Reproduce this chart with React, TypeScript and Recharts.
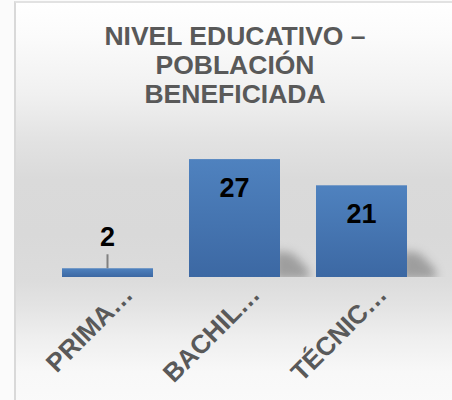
import React from "react";
import { BarChart, Bar, XAxis, YAxis, LabelList } from "recharts";

const categories = ["PRIMA…", "BACHIL…", "TÉCNIC…"];
const values = [2, 27, 21];
const titleLines = ["NIVEL EDUCATIVO –", "POBLACIÓN", "BENEFICIADA"];

const data = categories.map((name, i) => ({ name, value: values[i] }));

const FONT = '"Liberation Sans", Arial, Helvetica, sans-serif';

const BarShape = (props: any) => {
  const { x, y, width, height, index } = props;
  const bottom = y + height;
  const right = x + width;
  const sh = Math.min(height, 30);
  const clipId = `clip-shadow-${index}`;
  return (
    <g>
      <clipPath id={clipId}>
        <rect x={right} y={bottom - 60} width={60} height={60} />
      </clipPath>
      {sh > 12 && (
        <g clipPath={`url(#${clipId})`}>
          <polygon
            points={`${right - 6},${bottom + 2} ${right - 6},${bottom - sh + 4} ${right + 12},${bottom - sh + 6} ${right + 28},${bottom - 8} ${right + 30},${bottom + 2}`}
            fill="#8f8f8f"
            opacity={0.8}
            filter="url(#shadowBlur)"
          />
        </g>
      )}
      <rect x={x} y={y} width={width} height={height} fill="url(#barGrad)" />
    </g>
  );
};

const ValueLabel = (props: any) => {
  const { x, y, width, height, value } = props;
  const cx = x + width / 2;
  if (height < 40) {
    return (
      <g>
        <line x1={cx} x2={cx} y1={y - 14} y2={y} stroke="#808080" strokeWidth={2} />
        <text
          x={cx}
          y={y - 22}
          textAnchor="middle"
          fontFamily={FONT}
          fontWeight="bold"
          fontSize={27}
          fill="#000"
        >
          {value}
        </text>
      </g>
    );
  }
  return (
    <text
      x={cx}
      y={y + 38}
      textAnchor="middle"
      fontFamily={FONT}
      fontWeight="bold"
      fontSize={27}
      fill="#000"
    >
      {value}
    </text>
  );
};

const AxisTick = (props: any) => {
  const { x, payload } = props;
  const ax = x + 27;
  const ay = 296;
  return (
    <text
      x={ax}
      y={ay}
      textAnchor="end"
      transform={`rotate(-45, ${ax}, ${ay})`}
      fontFamily={FONT}
      fontWeight="bold"
      fontSize={26}
      fill="#595959"
    >
      {payload.value}
    </text>
  );
};

export default function App() {
  return (
    <div
      style={{
        position: "absolute",
        left: 0,
        top: 0,
        width: 452,
        height: 400,
        overflow: "hidden",
        background: "#fbfbfb",
      }}
    >
      <div
        style={{
          position: "absolute",
          left: 14,
          top: 1,
          width: 460,
          height: 420,
          borderLeft: "2px solid #d9d9d9",
          borderTop: "2px solid #e2e2e2",
          background:
            "linear-gradient(to bottom, #ffffff 0%, #fbfbfb 8%, #f0f0f0 22%, #e2e2e2 33%, #dadada 42%, #d9d9d9 55%, #dcdcdc 66%, #e3e3e3 72%, #efefef 80%, #f8f8f8 88%, #fbfbfb 100%)",
        }}
      />
      <div
        style={{
          position: "absolute",
          left: 0,
          top: 22,
          width: 470,
          textAlign: "center",
          fontFamily: FONT,
          fontWeight: "bold",
          fontSize: 26.5,
          lineHeight: "29px",
          color: "#595959",
        }}
      >
        {titleLines.map((l) => (
          <div key={l}>{l}</div>
        ))}
      </div>
      <div style={{ position: "absolute", left: 0, top: 0 }}>
        <BarChart
          width={452}
          height={400}
          data={data}
          margin={{ top: 146, right: 27, left: 44, bottom: 0 }}
        >
          <defs>
            <linearGradient id="barGrad" x1="0" y1="0" x2="0" y2="1">
              <stop offset="0%" stopColor="#4f82bf" />
              <stop offset="100%" stopColor="#3c68a3" />
            </linearGradient>
            <filter id="shadowBlur" x="-50%" y="-50%" width="200%" height="200%">
              <feGaussianBlur stdDeviation="5" />
            </filter>
          </defs>
          <XAxis
            dataKey="name"
            height={123}
            axisLine={false}
            tickLine={false}
            interval={0}
            tick={<AxisTick />}
          />
          <YAxis hide domain={[0, 30]} />
          <Bar dataKey="value" barSize={91} shape={<BarShape />} isAnimationActive={false}>
            <LabelList dataKey="value" content={<ValueLabel />} />
          </Bar>
        </BarChart>
      </div>
    </div>
  );
}
